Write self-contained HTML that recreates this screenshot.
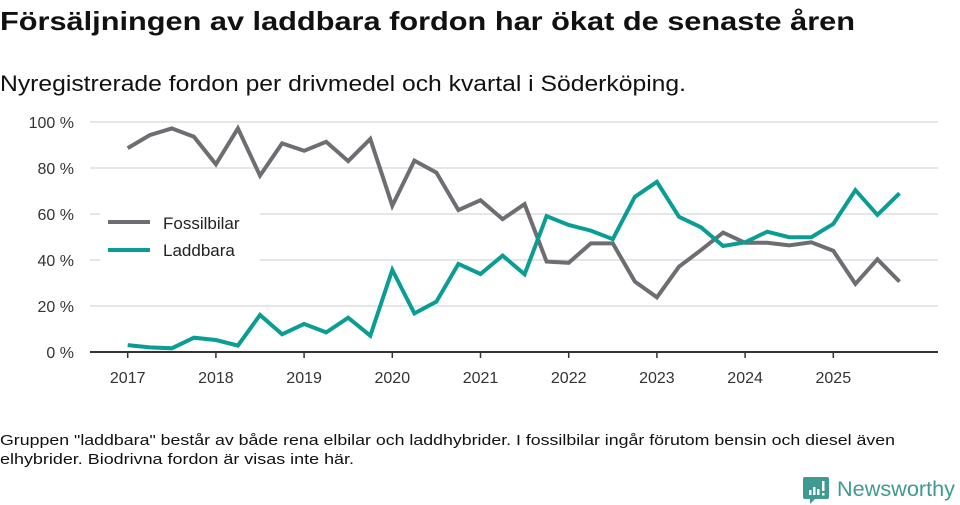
<!DOCTYPE html>
<html><head><meta charset="utf-8"><style>
body{margin:0;width:960px;height:505px;background:#fff;overflow:hidden;font-family:"Liberation Sans",sans-serif;}
svg{display:block}
</style></head><body>
<svg width="960" height="505">
<text x="0" y="30" font-size="26" font-weight="bold" fill="#111" textLength="855" lengthAdjust="spacingAndGlyphs">Försäljningen av laddbara fordon har ökat de senaste åren</text>
<text x="0" y="91" font-size="22" fill="#111" textLength="686" lengthAdjust="spacingAndGlyphs">Nyregistrerade fordon per drivmedel och kvartal i Söderköping.</text>
<g id="grid"></g>
<g id="yticks"></g>
<g id="xticks"></g>
<g id="lines"></g>
<g>
<rect x="100" y="203" width="160" height="60" fill="#fff"/>
<line x1="108" y1="222" x2="150" y2="222" stroke="#6e6d72" stroke-width="4"/>
<text x="163" y="229" font-size="17" fill="#222">Fossilbilar</text>
<line x1="108" y1="250" x2="150" y2="250" stroke="#0a9d94" stroke-width="4"/>
<text x="163" y="256" font-size="17" fill="#222">Laddbara</text>
</g>
<text x="0" y="445" font-size="15" fill="#111" textLength="895" lengthAdjust="spacingAndGlyphs">Gruppen "laddbara" består av både rena elbilar och laddhybrider. I fossilbilar ingår förutom bensin och diesel även</text>
<text x="0" y="464" font-size="15" fill="#111" textLength="354" lengthAdjust="spacingAndGlyphs">elhybrider. Biodrivna fordon är visas inte här.</text>
<g>
<path d="M805 477 h22 a2 2 0 0 1 2 2 v18 a2 2 0 0 1 -2 2 h-12 l-5 5 v-5 h-5 a2 2 0 0 1 -2 -2 v-18 a2 2 0 0 1 2 -2z" fill="#3f9a92"/>
<rect x="809" y="490" width="2.5" height="5" fill="#fff"/><rect x="813" y="487" width="2.5" height="8" fill="#fff"/><rect x="817" y="489" width="2.5" height="6" fill="#fff"/><rect x="822" y="481" width="2.5" height="10" fill="#fff"/><rect x="822" y="493" width="2.5" height="2.5" fill="#fff"/>
<text x="837" y="496" font-size="21" fill="#3f9a92" textLength="118" lengthAdjust="spacingAndGlyphs">Newsworthy</text>
</g>
</svg>
<script>
const years = [2017,2018,2019,2020,2021,2022,2023,2024,2025];
const yTicks = [0,20,40,60,80,100];
const yTickLabels = ["0 %","20 %","40 %","60 %","80 %","100 %"];
const fossil = [88.6,94.3,97.2,93.6,81.6,97.2,76.7,90.7,87.5,91.4,83,92.6,63.6,83.2,78,61.7,66,57.8,64.3,39.3,38.8,47.2,47.2,30.6,23.8,37.1,44.3,51.9,47.5,47.5,46.4,47.7,44,29.6,40.3,30.6];
const laddbara = [3,2,1.6,6.2,5.2,2.8,16.1,7.7,12.2,8.5,14.9,7.1,35.7,16.8,21.9,38.3,33.9,41.9,33.8,59.1,55.2,52.8,49.1,67.5,74,58.8,54.2,46.1,47.7,52.3,49.9,49.9,55.7,70.4,59.6,69];
const NS="http://www.w3.org/2000/svg";
const x0=127.7, pxPerYear=88.2, y0=352, pxPer=2.3;
const X = t => x0 + (t-2017)*pxPerYear;
const Y = v => y0 - v*pxPer;
function mk(tag, attrs, parent){const e=document.createElementNS(NS,tag);for(const k in attrs)e.setAttribute(k,attrs[k]);parent.appendChild(e);return e;}
const grid=document.getElementById('grid'), yt=document.getElementById('yticks'), xt=document.getElementById('xticks'), ln=document.getElementById('lines');
yTicks.forEach((v,i)=>{
  if(v>0){const g=mk('line',{x1:90,x2:938,y1:Y(v),y2:Y(v),stroke:'#dedede','stroke-width':1.5},grid);
  
  }
  const t=mk('text',{x:74,y:Y(v)+6,'font-size':16,fill:'#333','text-anchor':'end'},yt);
  t.textContent=yTickLabels[i];
  
  
});
const ax=mk('line',{x1:90,x2:938,y1:y0,y2:y0,stroke:'#333','stroke-width':2},xt);


years.forEach(yr=>{
  mk('line',{x1:X(yr),x2:X(yr),y1:y0,y2:y0+6,stroke:'#333','stroke-width':1.5},xt);
  const t=mk('text',{x:X(yr),y:y0+31,'font-size':16,fill:'#333','text-anchor':'middle'},xt);
  t.textContent=yr;
  
  
});
function series(arr,color,name){
  const pts=arr.map((v,i)=>X(2017+i/4).toFixed(1)+','+Y(v).toFixed(1)).join(' ');
  const p=mk('polyline',{points:pts,fill:'none',stroke:color,'stroke-width':4,'stroke-linejoin':'miter'},ln);
  
  
}
series(fossil,'#6e6d72','fossil-line');
series(laddbara,'#0a9d94','laddbara-line');
</script>
</body></html>
